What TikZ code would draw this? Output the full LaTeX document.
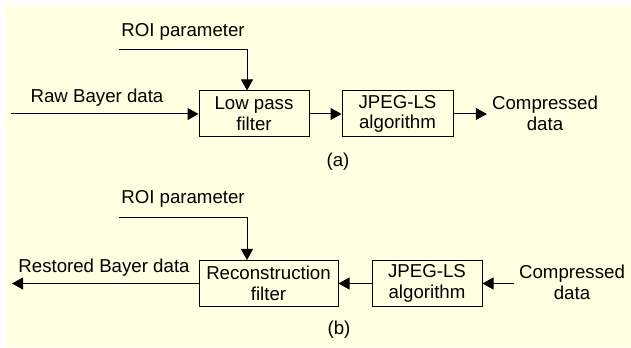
\documentclass[tikz,border=0pt]{standalone}
\usepackage{fontspec}
\setmainfont{Liberation Sans}
\usetikzlibrary{arrows.meta}
\definecolor{bgyellow}{RGB}{255,255,225}
\begin{document}
\begin{tikzpicture}[x=0.75pt,y=-0.75pt,
  font=\fontsize{14}{15.5}\selectfont,
  block/.style={draw, line width=0.75pt, inner sep=0pt, minimum height=34.5pt, align=center},
  lbl/.style={align=center, inner sep=0pt},
  side/.style={align=center, inner sep=3.75pt},
  conn/.style={line width=0.75pt, -{Triangle[length=8.25pt,width=9pt]}}]
\useasboundingbox (0,0) rectangle (631,348);
\fill[bgyellow] (6,5) rectangle (631,347);
% (a)
\node[block, minimum width=82.5pt] (lpf) at (254,114) {Low pass\\filter};
\node[block, minimum width=83.25pt] (jpa) at (397.5,114) {JPEG-LS\\algorithm};
\node[lbl] (roia) at (183,32) {ROI parameter};
\coordinate (roiaS) at (119,50);
\coordinate (roiaC) at (247,50);
\draw[conn] (roiaS) -- (roiaC) -- (roiaC |- lpf.north);
\node[lbl] (rawt) at (97,98) {Raw Bayer data};
\coordinate (rawS) at (11,114);
\draw[conn] (rawS) -- (lpf.west);
\draw[conn] (lpf) -- (jpa);
\node[side] (cda) at (545,113) {Compressed\\data};
\draw[conn] (jpa.east) -- (jpa.east -| cda.west);
\node[lbl] (capa) at (338,162) {(a)};
% (b)
\node[block, minimum width=104.25pt] (rec) at (268.5,283.5) {Reconstruction\\filter};
\node[block, minimum width=82.5pt] (jpb) at (427,283.5) {JPEG-LS\\algorithm};
\node[lbl] (roib) at (183,199) {ROI parameter};
\coordinate (roibS) at (119,218);
\coordinate (roibC) at (247,218);
\draw[conn] (roibS) -- (roibC) -- (roibC |- rec.north);
\node[side] (cdb) at (572,282) {Compressed\\data};
\draw[conn] (jpb.east -| cdb.west) -- (jpb.east);
\draw[conn] (jpb) -- (rec);
\coordinate (restE) at (12,283.5);
\draw[conn] (rec.west) -- (restE);
\node[lbl] (restt) at (104,268) {Restored Bayer data};
\node[lbl] (capb) at (339,330) {(b)};
\end{tikzpicture}
\end{document}
